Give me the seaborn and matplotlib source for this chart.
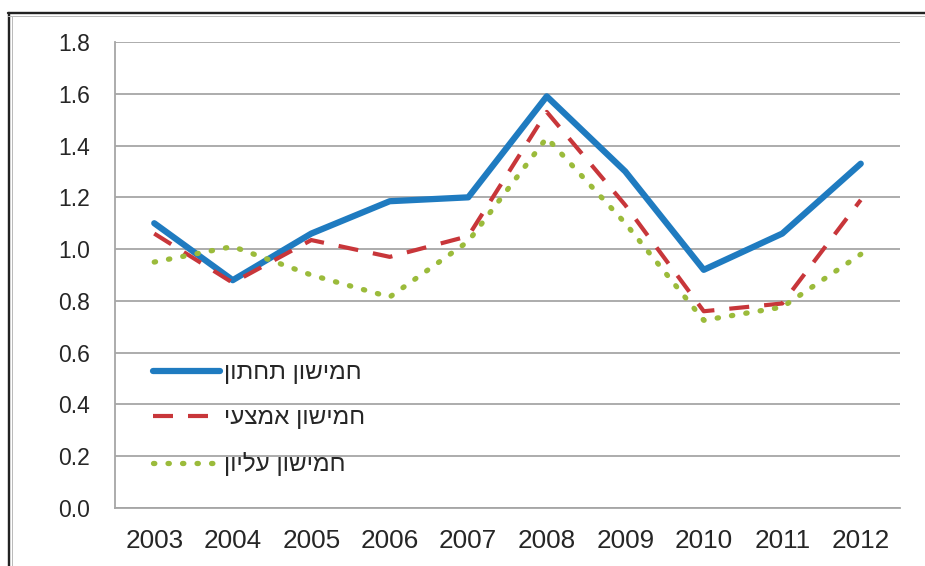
import matplotlib
matplotlib.use("Agg")
import matplotlib.pyplot as plt
from matplotlib.lines import Line2D
import numpy as np
import pandas as pd
import seaborn as sns

years = [2003, 2004, 2005, 2006, 2007, 2008, 2009, 2010, 2011, 2012]
bottom_q = [1.10, 0.88, 1.06, 1.185, 1.20, 1.59, 1.30, 0.92, 1.06, 1.33]
middle_q = [1.06, 0.87, 1.035, 0.97, 1.05, 1.53, 1.17, 0.76, 0.79, 1.19]
top_q = [0.95, 1.01, 0.90, 0.815, 1.03, 1.43, 1.10, 0.725, 0.776, 0.98]
labels = ["חמישון תחתון", "חמישון אמצעי", "חמישון עליון"]
yticks = [0.0, 0.2, 0.4, 0.6, 0.8, 1.0, 1.2, 1.4, 1.6, 1.8]

sns.set_style("white")
plt.rcParams['font.family'] = ['Liberation Sans', 'DejaVu Sans']

W, H = 925, 566
fig = plt.figure(figsize=(W / 100, H / 100), dpi=100)
ax = fig.add_axes([115 / W, 1 - 508 / H, (900 - 115) / W, (508 - 42) / H])

styles = [
    dict(color="#1F7BC0", lw=4.5, linestyle="-"),
    dict(color="#C8363A", lw=3.0, linestyle=(0, (4.8, 3.6))),
    dict(color="#9BBB3B", lw=3.8, linestyle=(0, (0.25, 2.5))),
]
caps = ["round", "butt", "round"]
series = [bottom_q, middle_q, top_q]
for vals, lab, st in zip(series, labels, styles):
    df = pd.DataFrame({"year": years, "value": vals})
    sns.lineplot(data=df, x="year", y="value", ax=ax, label=lab[::-1], **st)

for ln, cap in zip(ax.lines, caps):
    ln.set_solid_capstyle(cap)
    ln.set_dash_capstyle(cap)
    ln.set_solid_joinstyle("round")
    ln.set_dash_joinstyle("round")

grid_c = "#A6A6A6"
ax.set_xlim(years[0] - 0.5, years[-1] + 0.5)
ax.set_ylim(yticks[0], yticks[-1])
ax.set_yticks(yticks)
ax.set_yticklabels([f"{v:.1f}" for v in yticks])
ax.set_xticks(years)
ax.set_xticklabels([str(y) for y in years])
ax.set_xticks(np.arange(years[0] - 0.5, years[-1] + 0.6, 1.0), minor=True)
ax.tick_params(axis="x", which="major", length=0, labelsize=18.8, pad=15)
ax.tick_params(axis="x", which="minor", length=5.5, width=1.2, color=grid_c, direction="out")
ax.tick_params(axis="y", which="major", length=6, width=1.2, color=grid_c, labelsize=16.5, pad=12)
ax.yaxis.grid(True, color=grid_c, lw=1.3)
ax.xaxis.grid(False)
ax.set_axisbelow(True)
for s in ["top", "right"]:
    ax.spines[s].set_visible(False)
for s in ["left", "bottom"]:
    ax.spines[s].set_color(grid_c)
    ax.spines[s].set_linewidth(1.3)
ax.set_xlabel("")
ax.set_ylabel("")

leg = ax.legend(loc="upper left", bbox_to_anchor=(0.048, 0.313), frameon=False,
                fontsize=17.5, handlelength=2.75, handletextpad=0.2, labelspacing=0.95,
                borderpad=0, borderaxespad=0)
for h, cap in zip(leg.get_lines(), caps):
    h.set_solid_capstyle(cap)
    h.set_dash_capstyle(cap)

# outer frame
fr = fig.transFigure
def px(x, y):
    return x / W, 1 - y / H
for (x0, y0, x1, y1, c, w) in [
    (8, 13, W + 5, 13, "#222222", 2.4),
    (9, 13, 9, H + 5, "#222222", 2.4),
    (8, 16, W + 5, 16, "#BBBBBB", 1.0),
    (12, 16, 12, H + 5, "#BBBBBB", 1.0),
]:
    a, b = px(x0, y0)
    c2, d = px(x1, y1)
    fig.add_artist(Line2D([a, c2], [b, d], transform=fr, color=c, lw=w * 0.72, clip_on=False))

fig.savefig("out.png", dpi=100)
